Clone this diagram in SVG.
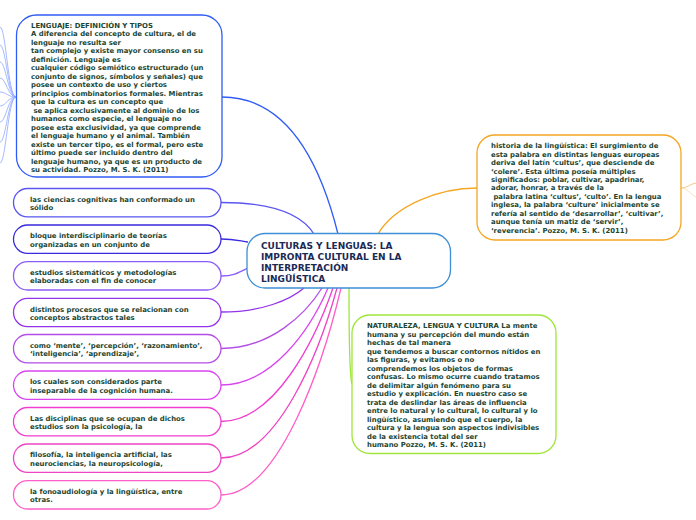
<svg xmlns="http://www.w3.org/2000/svg" width="696" height="520" viewBox="0 0 696 520">
<style>
.t{font-family:"DejaVu Sans",Verdana,sans-serif;font-weight:bold;font-size:6.9px;fill:#1c4532}
.title{font-family:"DejaVu Sans",Verdana,sans-serif;font-weight:bold;font-size:9px;fill:#1b2a55}
.box{fill:#fff;stroke-width:1.3}
.c{fill:none;stroke-width:1.3}
.fan{fill:none;stroke:#8fa8ff;stroke-width:0.8}
</style>
<rect width="696" height="520" fill="#fff"/>
<g id="connectors">
<path class="fan" d="M16,97 C8,97 6,27 0,27"/>
<path class="fan" d="M16,97 C8,97 6,45 0,45"/>
<path class="fan" d="M16,97 C8,97 6,62 0,62"/>
<path class="fan" d="M16,97 C8,97 6,78 0,78"/>
<path class="fan" d="M16,97 C8,97 6,92 0,92"/>
<path class="fan" d="M16,97 C8,97 6,106 0,106"/>
<path class="fan" d="M16,97 C8,97 6,122 0,122"/>
<path class="fan" d="M16,97 C8,97 6,142 0,142"/>
<path class="fan" d="M16,97 C8,97 6,163 0,163"/>
<path class="c" stroke="#2f5cf5" d="M222,97 C290,97 322,170 338,234"/>
<path class="c" stroke="#f5a623" d="M378,234 C395,205 440,188 477,188"/>
<path fill="none" stroke="#f7c27a" stroke-width="0.9" d="M681,188 C687,188 690,184 696,183"/>
<path fill="none" stroke="#f9d9a8" stroke-width="0.8" d="M681,188 C687,188 690,194 696,197"/>
<path class="c" stroke="#9ee63b" d="M349,288 C349,330 349,375 352,384"/>
<path class="c" stroke="#5a55f0" d="M221,202.5 C268,202.5 300,212 314,234"/>
<path class="c" stroke="#3a2ae0" d="M221,239 C234,239 240,241 248,242"/>
<path class="c" stroke="#8b5cf6" d="M221,276 C234,276 240,272 248,268"/>
<path class="c" stroke="#9333ea" d="M221,312 C262,312 290,300 304,288"/>
<path class="c" stroke="#b44ee8" d="M221,348.5 C270,348.5 305,315 322,288"/>
<path class="c" stroke="#d946ef" d="M221,385 C272,385 310,330 328,288"/>
<path class="c" stroke="#f03ed0" d="M221,421.5 C275,421.5 315,340 333,288"/>
<path class="c" stroke="#ee44c4" d="M221,458 C278,458 320,350 337,288"/>
<path class="c" stroke="#ff5ec8" d="M221,495 C280,495 324,360 341,288"/>
</g>
<g id="center">
<rect class="box" x="247" y="233.5" width="203.5" height="54.5" rx="18" stroke="#3d8fd6"/>
<text class="title"><tspan x="261" y="248.5">CULTURAS Y LENGUAS: LA</tspan><tspan x="261" y="259.5">IMPRONTA CULTURAL EN LA</tspan><tspan x="261" y="270.5">INTERPRETACIÓN</tspan><tspan x="261" y="281.5">LINGÜÍSTICA</tspan></text>
</g>
<g id="lenguaje">
<rect class="box" x="16.5" y="15" width="205.5" height="162" rx="20" stroke="#2f5cf5"/>
<text class="t"><tspan x="31" y="27.7">LENGUAJE: DEFINICIÓN Y TIPOS</tspan><tspan x="31" dy="8.51">A diferencia del concepto de cultura, el de</tspan><tspan x="31" dy="8.51">lenguaje no resulta ser</tspan><tspan x="31" dy="8.51">tan complejo y existe mayor consenso en su</tspan><tspan x="31" dy="8.51">definición. Lenguaje es</tspan><tspan x="31" dy="8.51">cualquier código semiótico estructurado (un</tspan><tspan x="31" dy="8.51">conjunto de signos, símbolos y señales) que</tspan><tspan x="31" dy="8.51">posee un contexto de uso y ciertos</tspan><tspan x="31" dy="8.51">principios combinatorios formales. Mientras</tspan><tspan x="31" dy="8.51">que la cultura es un concepto que</tspan><tspan x="33.4" dy="8.51">se aplica exclusivamente al dominio de los</tspan><tspan x="31" dy="8.51">humanos como especie, el lenguaje no</tspan><tspan x="31" dy="8.51">posee esta exclusividad, ya que comprende</tspan><tspan x="31" dy="8.51">el lenguaje humano y el animal. También</tspan><tspan x="31" dy="8.51">existe un tercer tipo, es el formal, pero este</tspan><tspan x="31" dy="8.51">último puede ser incluido dentro del</tspan><tspan x="31" dy="8.51">lenguaje humano, ya que es un producto de</tspan><tspan x="31" dy="8.51">su actividad. Pozzo, M. S. K. (2011)</tspan></text>
</g>
<g id="historia">
<rect class="box" x="477" y="135" width="204" height="105" rx="18" stroke="#f5a623"/>
<text class="t"><tspan x="491" y="148.3">historia de la lingüística: El surgimiento de</tspan><tspan x="491" dy="8.43">esta palabra en distintas lenguas europeas</tspan><tspan x="491" dy="8.43">deriva del latín ‘cultus’, que desciende de</tspan><tspan x="491" dy="8.43">‘colere’. Esta última poseía múltiples</tspan><tspan x="491" dy="8.43">significados: poblar, cultivar, apadrinar,</tspan><tspan x="491" dy="8.43">adorar, honrar, a través de la</tspan><tspan x="493.4" dy="8.43">palabra latina ‘cultus’, ‘culto’. En la lengua</tspan><tspan x="491" dy="8.43">inglesa, la palabra ‘culture’ inicialmente se</tspan><tspan x="491" dy="8.43">refería al sentido de ‘desarrollar’, ‘cultivar’,</tspan><tspan x="491" dy="8.43">aunque tenía un matiz de ‘servir’,</tspan><tspan x="491" dy="8.43">‘reverencia’. Pozzo, M. S. K. (2011)</tspan></text>
</g>
<g id="naturaleza">
<rect class="box" x="352" y="315" width="204" height="138.5" rx="18" stroke="#9ee63b"/>
<text class="t"><tspan x="367" y="328.3">NATURALEZA, LENGUA Y CULTURA La mente</tspan><tspan x="367" dy="8.5">humana y su percepción del mundo están</tspan><tspan x="367" dy="8.5">hechas de tal manera</tspan><tspan x="367" dy="8.5">que tendemos a buscar contornos nítidos en</tspan><tspan x="367" dy="8.5">las figuras, y evitamos o no</tspan><tspan x="367" dy="8.5">comprendemos los objetos de formas</tspan><tspan x="367" dy="8.5">confusas. Lo mismo ocurre cuando tratamos</tspan><tspan x="367" dy="8.5">de delimitar algún fenómeno para su</tspan><tspan x="367" dy="8.5">estudio y explicación. En nuestro caso se</tspan><tspan x="367" dy="8.5">trata de deslindar las áreas de influencia</tspan><tspan x="367" dy="8.5">entre lo natural y lo cultural, lo cultural y lo</tspan><tspan x="367" dy="8.5">lingüístico, asumiendo que el cuerpo, la</tspan><tspan x="367" dy="8.5">cultura y la lengua son aspectos indivisibles</tspan><tspan x="367" dy="8.5">de la existencia total del ser</tspan><tspan x="367" dy="8.5">humano Pozzo, M. S. K. (2011)</tspan></text>
</g>
<g id="n1">
<rect class="box" x="13.5" y="188.5" width="207.5" height="28.3" rx="14" stroke="#5a55f0"/>
<text class="t"><tspan x="30" y="201.8">las ciencias cognitivas han conformado un</tspan><tspan x="30" y="210.1">sólido</tspan></text>
</g>
<g id="n2">
<rect class="box" x="13.5" y="225" width="207.5" height="28.3" rx="14" stroke="#3a2ae0"/>
<text class="t"><tspan x="30" y="238.3">bloque interdisciplinario de teorías</tspan><tspan x="30" y="246.6">organizadas en un conjunto de</tspan></text>
</g>
<g id="n3">
<rect class="box" x="13.5" y="261.7" width="207.5" height="28.3" rx="14" stroke="#8b5cf6"/>
<text class="t"><tspan x="30" y="275">estudios sistemáticos y metodologías</tspan><tspan x="30" y="283.3">elaboradas con el fin de conocer</tspan></text>
</g>
<g id="n4">
<rect class="box" x="13.5" y="298.3" width="207.5" height="28.3" rx="14" stroke="#9333ea"/>
<text class="t"><tspan x="30" y="311.6">distintos procesos que se relacionan con</tspan><tspan x="30" y="319.9">conceptos abstractos tales</tspan></text>
</g>
<g id="n5">
<rect class="box" x="13.5" y="334.5" width="207.5" height="28.3" rx="14" stroke="#b44ee8"/>
<text class="t"><tspan x="30" y="347.8">como ‘mente’, ‘percepción’, ‘razonamiento’,</tspan><tspan x="30" y="356.1">‘inteligencia’, ‘aprendizaje’,</tspan></text>
</g>
<g id="n6">
<rect class="box" x="13.5" y="371" width="207.5" height="28.3" rx="14" stroke="#d946ef"/>
<text class="t"><tspan x="30" y="384.3">los cuales son considerados parte</tspan><tspan x="30" y="392.6">inseparable de la cognición humana.</tspan></text>
</g>
<g id="n7">
<rect class="box" x="13.5" y="407.5" width="207.5" height="28.3" rx="14" stroke="#f03ed0"/>
<text class="t"><tspan x="30" y="420.8">Las disciplinas que se ocupan de dichos</tspan><tspan x="30" y="429.1">estudios son la psicología, la</tspan></text>
</g>
<g id="n8">
<rect class="box" x="13.5" y="444" width="207.5" height="28.3" rx="14" stroke="#ee44c4"/>
<text class="t"><tspan x="30" y="457.3">filosofía, la inteligencia artificial, las</tspan><tspan x="30" y="465.6">neurociencias, la neuropsicología,</tspan></text>
</g>
<g id="n9">
<rect class="box" x="13.5" y="480.7" width="207.5" height="28.3" rx="14" stroke="#ff5ec8"/>
<text class="t"><tspan x="30" y="494">la fonoaudiología y la lingüística, entre</tspan><tspan x="30" y="502.3">otras.</tspan></text>
</g>
</svg>
